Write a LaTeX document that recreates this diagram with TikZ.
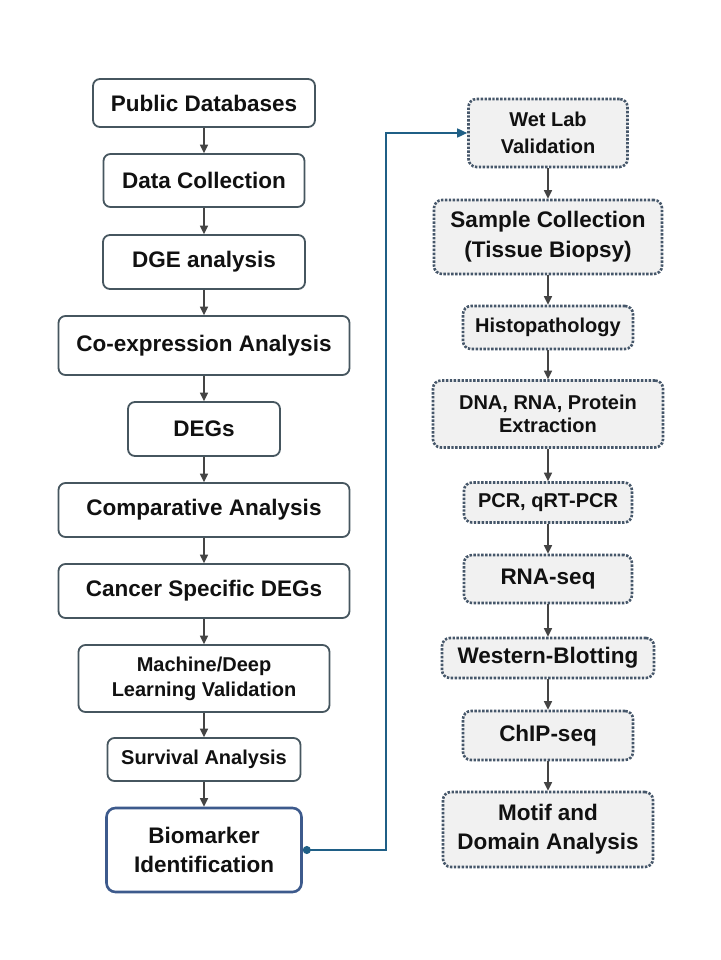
\documentclass[tikz,border=0pt]{standalone}
\usepackage{fontspec}
\setmainfont{Liberation Sans}
\usetikzlibrary{arrows.meta}
\definecolor{boxline}{HTML}{46565F}
\definecolor{bioline}{HTML}{3D5A8C}
\definecolor{dotline}{HTML}{46576A}
\definecolor{dotfill}{HTML}{F1F1F1}
\definecolor{arrowc}{HTML}{444444}
\definecolor{bluec}{HTML}{1F5F86}
\definecolor{txt}{HTML}{111111}
\tikzset{
  bigtxt/.style={font=\fontsize{22.5}{28}\selectfont\bfseries, text=txt},
  smalltxt/.style={font=\fontsize{20}{25}\selectfont\bfseries, text=txt},
  solidbox/.style={draw=boxline, line width=1.8pt, rounded corners=7pt, fill=white, align=center, inner sep=0pt},
  biobox/.style={draw=bioline, line width=2.6pt, rounded corners=9pt, fill=white, align=center, inner sep=0pt},
  dotbox/.style={draw=dotline, line width=2.6pt, dash pattern=on 2.4pt off 1.5pt, rounded corners=8pt, fill=dotfill, align=center, inner sep=0pt},
  flow/.style={draw=arrowc, line width=1.5pt, -{Triangle[length=8.5pt,width=8pt]}},
  bluelink/.style={draw=bluec, line width=1.5pt, {Circle[length=8pt]}-{Triangle[length=10pt,width=9pt]}}
}
\begin{document}
\begin{tikzpicture}[x=1pt,y=-1pt]
\useasboundingbox[fill=white] (0,0) rectangle (720,960);
% left column
\node[solidbox,bigtxt,minimum width=222pt,minimum height=48pt] (pub) at (204,103) {Public Databases};
\node[solidbox,bigtxt,minimum width=201pt,minimum height=53pt] (data) at (204,180.5) {Data Collection};
\node[solidbox,bigtxt,minimum width=202pt,minimum height=54pt] (dge) at (204,262) {DGE analysis};
\node[solidbox,bigtxt,minimum width=291pt,minimum height=59pt] (coexp) at (204,345.5) {Co-expression Analysis};
\node[solidbox,bigtxt,minimum width=152pt,minimum height=54pt] (degs) at (204,429) {DEGs};
\node[solidbox,bigtxt,minimum width=291pt,minimum height=54pt] (comp) at (204,510) {Comparative Analysis};
\node[solidbox,bigtxt,minimum width=291pt,minimum height=54pt] (cancer) at (204,591) {Cancer Specific DEGs};
\node[solidbox,smalltxt,minimum width=251pt,minimum height=67pt] (ml) at (204,678.5) {Machine/Deep\\Learning Validation};
\node[solidbox,smalltxt,minimum width=193pt,minimum height=43pt] (surv) at (204,759.5) {Survival Analysis};
\node[biobox,font=\fontsize{22.5}{29}\selectfont\bfseries,text=txt,minimum width=195pt,minimum height=84pt] (bio) at (204,850) {Biomarker\\Identification};
% right column
\node[dotbox,font=\fontsize{20}{27}\selectfont\bfseries,text=txt,minimum width=159pt,minimum height=68pt] (wet) at (548,133) {Wet Lab\\Validation};
\node[dotbox,font=\fontsize{22.5}{30}\selectfont\bfseries,text=txt,minimum width=228pt,minimum height=74pt] (sample) at (548,237) {Sample Collection\\(Tissue Biopsy)};
\node[dotbox,smalltxt,minimum width=170pt,minimum height=43pt] (histo) at (548,327.5) {Histopathology};
\node[dotbox,font=\fontsize{20}{23.5}\selectfont\bfseries,text=txt,minimum width=230pt,minimum height=67pt] (dna) at (548,414) {DNA, RNA, Protein\\Extraction};
\node[dotbox,smalltxt,minimum width=168pt,minimum height=40pt] (pcr) at (548,502.5) {PCR, qRT-PCR};
\node[dotbox,bigtxt,minimum width=168pt,minimum height=48pt] (rna) at (548,579) {RNA-seq};
\node[dotbox,bigtxt,minimum width=212pt,minimum height=40pt] (west) at (548,658) {Western-Blotting};
\node[dotbox,bigtxt,minimum width=170pt,minimum height=49pt] (chip) at (548,735.5) {ChIP-seq};
\node[dotbox,font=\fontsize{22.5}{29}\selectfont\bfseries,text=txt,minimum width=210pt,minimum height=75pt] (motif) at (548,829.5) {Motif and\\Domain Analysis};
% left arrows
\draw[flow] (pub.south) -- (data.north);
\draw[flow] (data.south) -- (dge.north);
\draw[flow] (dge.south) -- (coexp.north);
\draw[flow] (coexp.south) -- (degs.north);
\draw[flow] (degs.south) -- (comp.north);
\draw[flow] (comp.south) -- (cancer.north);
\draw[flow] (cancer.south) -- (ml.north);
\draw[flow] (ml.south) -- (surv.north);
\draw[flow] (surv.south) -- (bio.north);
% right arrows
\draw[flow] (wet.south) -- (sample.north);
\draw[flow] (sample.south) -- (histo.north);
\draw[flow] (histo.south) -- (dna.north);
\draw[flow] (dna.south) -- (pcr.north);
\draw[flow] (pcr.south) -- (rna.north);
\draw[flow] (rna.south) -- (west.north);
\draw[flow] (west.south) -- (chip.north);
\draw[flow] (chip.south) -- (motif.north);
% blue link
\draw[bluelink] (bio.east) -- ++(83,0) |- (wet.west);
\end{tikzpicture}
\end{document}
